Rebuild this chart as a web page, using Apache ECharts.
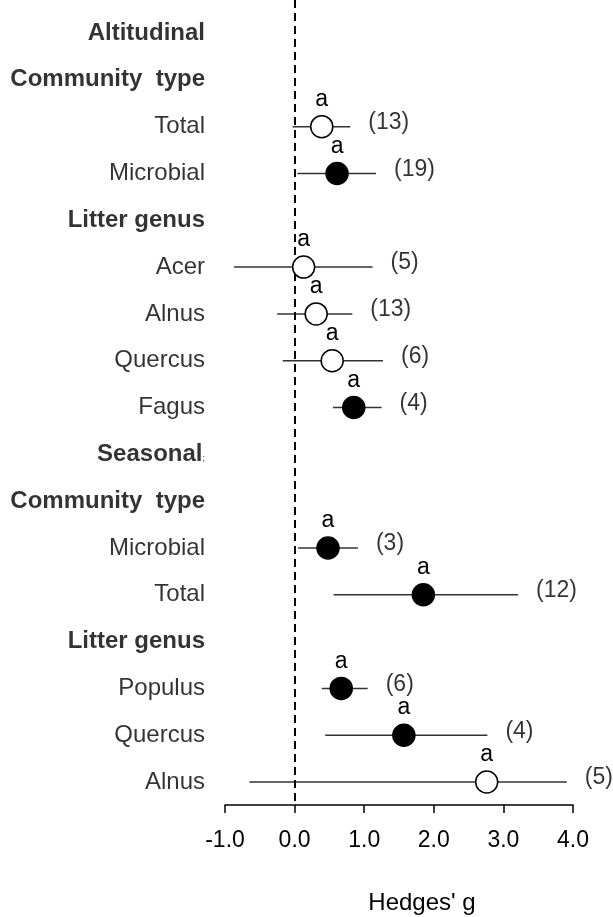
<!DOCTYPE html>
<html>
<head>
<meta charset="utf-8">
<script src="https://cdn.jsdelivr.net/npm/echarts@6/dist/echarts.min.js"></script>
<style>
  html, body { margin: 0; padding: 0; background: #fff; }
  #chart { width: 613px; height: 917px; }
</style>
</head>
<body>
<div id="chart"></div>
<script>
// rows from top to bottom, headers are the bold ones
var rowLabels = ['Altitudinal', 'Community  type', 'Total', 'Microbial', 'Litter genus',
  'Acer', 'Alnus', 'Quercus', 'Fagus', 'Seasonal', 'Community  type', 'Microbial',
  'Total', 'Litter genus', 'Populus', 'Quercus', 'Alnus'];
var headerIdx = [0, 1, 4, 9, 10, 13];

// one entry per non-header row, same order
var est = [0.39, 0.61, 0.13, 0.31, 0.54, 0.85, 0.48, 1.85, 0.67, 1.57, 2.76];
var ciLow = [-0.03, 0.04, -0.87, -0.25, -0.17, 0.55, 0.05, 0.56, 0.39, 0.44, -0.65];
var ciHigh = [0.80, 1.17, 1.12, 0.83, 1.27, 1.25, 0.91, 3.21, 1.05, 2.77, 3.91];
var nStudies = [13, 19, 5, 13, 6, 4, 3, 12, 6, 4, 5];
var filled = [false, true, false, false, false, true, true, true, true, true, false];
var groups = ['a', 'a', 'a', 'a', 'a', 'a', 'a', 'a', 'a', 'a', 'a'];
var xTicks = [-1, 0, 1, 2, 3, 4];

var rows = [];
rowLabels.forEach(function (name, i) {
  if (headerIdx.indexOf(i) < 0) rows.push(i);
});

var font = "'Liberation Sans', Arial, sans-serif";
var chart = echarts.init(document.getElementById('chart'));

chart.setOption({
  animation: false,
  textStyle: { fontFamily: font, color: '#000' },
  grid: { left: 225, right: 40, top: 0, bottom: 112, containLabel: false, outerBoundsMode: 'none' },
  xAxis: {
    type: 'value',
    min: xTicks[0],
    max: xTicks[xTicks.length - 1],
    interval: 1,
    splitLine: { show: false },
    axisLine: { onZero: false, lineStyle: { color: '#000', width: 1.5 } },
    axisTick: { length: 8, lineStyle: { color: '#000', width: 1.5 } },
    axisLabel: {
      fontSize: 23, color: '#000', margin: 24, fontFamily: font,
      formatter: function (v) { return v.toFixed(1); }
    },
    name: "Hedges' g",
    nameLocation: 'middle',
    nameGap: 86,
    nameTextStyle: { fontSize: 24, color: '#000', fontFamily: font, padding: [0, 0, 0, 46] }
  },
  yAxis: {
    type: 'value',
    inverse: true,
    min: -0.705,
    max: 16.49,
    show: false
  },
  series: [
    {
      // row labels on the left
      type: 'scatter',
      symbolSize: 0,
      silent: true,
      clip: false,
      data: rowLabels.map(function (name, i) {
        var isHead = headerIdx.indexOf(i) >= 0;
        var txt = isHead ? '{h|' + name + '}' : '{r|' + name + '}';
        if (name === 'Seasonal') txt += '{s|;}';
        return { value: [xTicks[0], i], label: { formatter: txt } };
      }),
      label: {
        show: true,
        position: 'left',
        distance: 20,
        rich: {
          h: { fontSize: 24, fontWeight: 'bold', fontFamily: font, color: '#000' },
          r: { fontSize: 24, fontFamily: font, color: '#000' },
          s: { fontSize: 9, fontFamily: font, color: '#000', padding: [8, 0, 0, 0] }
        }
      }
    },
    {
      // confidence intervals
      type: 'custom',
      silent: true,
      data: rows.map(function (r, k) { return [ciLow[k], ciHigh[k], r]; }),
      encode: { x: [0, 1], y: 2 },
      renderItem: function (params, api) {
        var p1 = api.coord([api.value(0), api.value(2)]);
        var p2 = api.coord([api.value(1), api.value(2)]);
        return {
          type: 'line',
          shape: { x1: p1[0], y1: p1[1], x2: p2[0], y2: p2[1] },
          style: { stroke: '#333', lineWidth: 1.5 }
        };
      },
      markLine: {
        silent: true,
        symbol: 'none',
        label: { show: false },
        lineStyle: { type: [8, 5], color: '#000', width: 2 },
        data: [{ xAxis: 0 }]
      }
    },
    {
      // effect sizes
      type: 'scatter',
      symbol: 'circle',
      symbolSize: 22,
      z: 5,
      data: est.map(function (v, k) {
        return {
          value: [v, rows[k]],
          itemStyle: { color: filled[k] ? '#000' : '#fff' },
          label: { formatter: groups[k] }
        };
      }),
      itemStyle: { borderColor: '#000', borderWidth: 1.5, opacity: 1 },
      label: { show: true, position: 'top', distance: 4, fontSize: 23, color: '#000', fontFamily: font }
    },
    {
      // sample sizes
      type: 'scatter',
      symbolSize: 0,
      silent: true,
      clip: false,
      data: ciHigh.map(function (v, k) {
        return { value: [v, rows[k]], name: '(' + nStudies[k] + ')' };
      }),
      label: {
        show: true, position: 'right', distance: 18, offset: [0, -4],
        formatter: '{b}', fontSize: 23, color: '#000', fontFamily: font
      }
    }
  ]
});
</script>
</body>
</html>
